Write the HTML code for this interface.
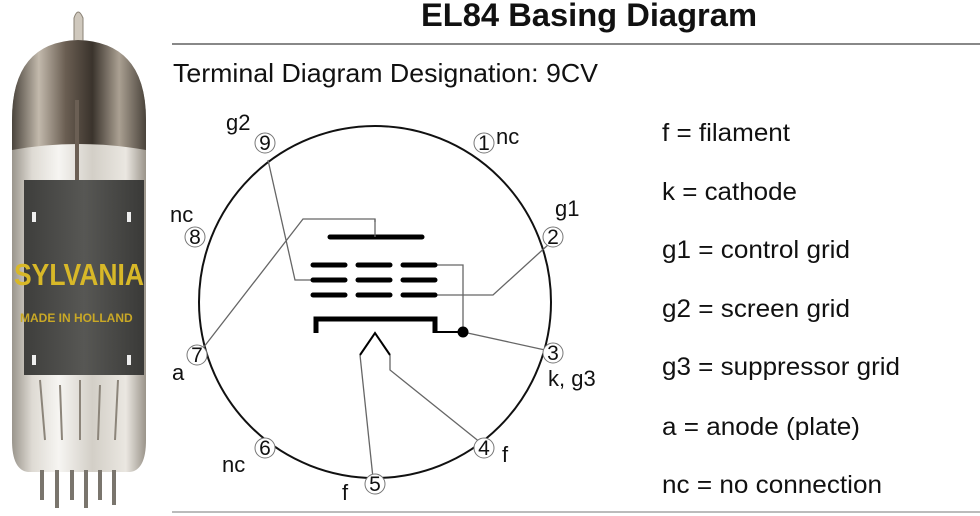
<!DOCTYPE html>
<html><head><meta charset="utf-8"><style>
html,body{margin:0;padding:0;background:#fff;}
svg{display:block;font-family:"Liberation Sans",Arial,sans-serif;}
</style></head><body>
<svg width="980" height="516" viewBox="0 0 980 516" xmlns="http://www.w3.org/2000/svg">
<defs>
<linearGradient id="glass" x1="0" x2="1" y1="0" y2="0">
<stop offset="0" stop-color="#9a958c"/><stop offset="0.15" stop-color="#dedad3"/><stop offset="0.35" stop-color="#f6f5f2"/><stop offset="0.6" stop-color="#d3cfc7"/><stop offset="0.85" stop-color="#eae7e1"/><stop offset="1" stop-color="#9a948a"/>
</linearGradient>
<linearGradient id="dome" x1="0" x2="1" y1="0" y2="0">
<stop offset="0" stop-color="#4a443c"/><stop offset="0.2" stop-color="#c2b9ac"/><stop offset="0.4" stop-color="#6a5e52"/><stop offset="0.6" stop-color="#3a332c"/><stop offset="0.8" stop-color="#aaa092"/><stop offset="1" stop-color="#4a433b"/>
</linearGradient>
<linearGradient id="plate" x1="0" x2="1" y1="0" y2="0">
<stop offset="0" stop-color="#3e3e3c"/><stop offset="0.5" stop-color="#575754"/><stop offset="1" stop-color="#3a3a38"/>
</linearGradient>
</defs>
<path d="M74 42 L74 18 Q78 6 83 18 L83 42 Z" fill="#cfc8bd" stroke="#8a8275"/>
<path d="M12 120 Q12 42 78 40 Q146 42 146 120 L146 440 Q146 470 130 472 L28 472 Q12 470 12 440 Z" fill="url(#glass)"/>
<path d="M12 120 Q12 42 78 40 Q146 42 146 120 L146 150 Q78 138 12 150 Z" fill="url(#dome)"/>
<rect x="75" y="100" width="4" height="80" fill="#6b5f54"/>
<rect x="24" y="180" width="120" height="195" fill="url(#plate)"/>
<rect x="32" y="212" width="4" height="10" fill="#eee"/><rect x="127" y="212" width="4" height="10" fill="#eee"/>
<rect x="32" y="355" width="4" height="10" fill="#eee"/><rect x="127" y="355" width="4" height="10" fill="#eee"/>
<text x="14" y="285" font-size="31" font-weight="bold" fill="#d8b828" textLength="130" lengthAdjust="spacingAndGlyphs">SYLVANIA</text>
<text x="20" y="322" font-size="12" font-weight="bold" fill="#c9a826">MADE IN HOLLAND</text>
<path d="M40 380 L45 440 M60 385 L62 440 M80 380 L80 440 M100 385 L98 440 M118 380 L115 440" stroke="#8c857a" stroke-width="2" fill="none"/>
<g stroke="#7a756d" stroke-width="4">
<line x1="42" y1="470" x2="42" y2="500"/><line x1="57" y1="470" x2="57" y2="508"/><line x1="72" y1="470" x2="72" y2="500"/><line x1="86" y1="470" x2="86" y2="508"/><line x1="100" y1="470" x2="100" y2="500"/><line x1="114" y1="470" x2="114" y2="505"/>
</g>
<text x="421" y="26" font-size="32" font-weight="bold" fill="#111" textLength="336" lengthAdjust="spacingAndGlyphs">EL84 Basing Diagram</text>
<line x1="172" y1="44" x2="980" y2="44" stroke="#888" stroke-width="2"/>
<text x="173" y="82" font-size="26" fill="#111" textLength="425" lengthAdjust="spacingAndGlyphs">Terminal Diagram Designation: 9CV</text>
<line x1="172" y1="512" x2="980" y2="512" stroke="#bbb" stroke-width="2"/>
<circle cx="375" cy="302" r="176" fill="none" stroke="#111" stroke-width="2"/>
<g stroke="#666" stroke-width="1.3" fill="none">
<polyline points="268,160 295,280 313,280"/>
<polyline points="375,222 375,219 303,219 200,352"/>
<polyline points="437,265 463,265 463,332"/>
<polyline points="437,295 493,295 549,244"/>
<polyline points="463,332 545,350"/>
<polyline points="360,355 373,478"/>
<polyline points="390,355 390,370 481,443"/>
</g>
<g stroke="#000" stroke-width="5" stroke-linecap="round" fill="none">
<line x1="330" y1="237" x2="422" y2="237"/>
<line x1="313" y1="265" x2="345" y2="265"/><line x1="358" y1="265" x2="390" y2="265"/><line x1="403" y1="265" x2="435" y2="265"/>
<line x1="313" y1="280" x2="345" y2="280"/><line x1="358" y1="280" x2="390" y2="280"/><line x1="403" y1="280" x2="435" y2="280"/>
<line x1="313" y1="295" x2="345" y2="295"/><line x1="358" y1="295" x2="390" y2="295"/><line x1="403" y1="295" x2="435" y2="295"/>
<polyline points="316,333 316,319 435,319 435,333" stroke-linecap="butt"/>
</g>
<line x1="375" y1="219" x2="375" y2="237" stroke="#666" stroke-width="1.3"/>
<line x1="435" y1="332" x2="463" y2="332" stroke="#000" stroke-width="2"/>
<polyline points="360,355 375,333 390,355" fill="none" stroke="#000" stroke-width="2"/>
<circle cx="463" cy="332" r="5.5" fill="#000"/>
<g fill="#fff" stroke="#777" stroke-width="1">
<circle cx="265" cy="143" r="10"/><circle cx="484" cy="143" r="10"/><circle cx="553" cy="237" r="10"/><circle cx="553" cy="353" r="10"/><circle cx="484" cy="448" r="10"/><circle cx="375" cy="484" r="10"/><circle cx="265" cy="448" r="10"/><circle cx="197" cy="355" r="10"/><circle cx="195" cy="237" r="10"/>
</g>
<g font-size="21" fill="#111" text-anchor="middle">
<text x="265" y="150">9</text><text x="484" y="150">1</text><text x="553" y="244">2</text><text x="553" y="360">3</text><text x="484" y="455">4</text><text x="375" y="491">5</text><text x="265" y="455">6</text><text x="197" y="362">7</text><text x="195" y="244">8</text>
</g>
<g font-size="22" fill="#111">
<text x="226" y="130">g2</text>
<text x="496" y="144">nc</text>
<text x="555" y="216">g1</text>
<text x="170" y="222">nc</text>
<text x="172" y="380">a</text>
<text x="548" y="386">k, g3</text>
<text x="502" y="462">f</text>
<text x="222" y="472">nc</text>
<text x="342" y="500">f</text>
</g>
<g font-size="25" fill="#111">
<text x="662" y="141" textLength="128" lengthAdjust="spacingAndGlyphs">f = filament</text>
<text x="662" y="200" textLength="135" lengthAdjust="spacingAndGlyphs">k = cathode</text>
<text x="662" y="258" textLength="188" lengthAdjust="spacingAndGlyphs">g1 = control grid</text>
<text x="662" y="317" textLength="188" lengthAdjust="spacingAndGlyphs">g2 = screen grid</text>
<text x="662" y="375" textLength="238" lengthAdjust="spacingAndGlyphs">g3 = suppressor grid</text>
<text x="662" y="435" textLength="198" lengthAdjust="spacingAndGlyphs">a = anode (plate)</text>
<text x="662" y="493" textLength="220" lengthAdjust="spacingAndGlyphs">nc = no connection</text>
</g>
</svg>
</body></html>
